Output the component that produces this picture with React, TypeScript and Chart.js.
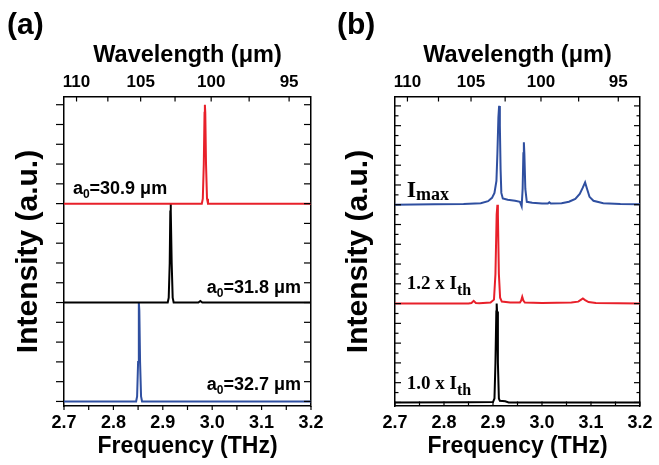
import React, { useEffect, useRef } from "react";
import { Chart, registerables } from "chart.js";

Chart.register(...registerables);

// ---------- constants / tick data ----------
const C_UM_THZ = 299.792458; // wavelength (um) * frequency (THz)

const freqTicks = [2.7, 2.8, 2.9, 3.0, 3.1, 3.2];
const freqTickLabels = ["2.7", "2.8", "2.9", "3.0", "3.1", "3.2"];
const freqAllTicks = [2.7, 2.75, 2.8, 2.85, 2.9, 2.95, 3.0, 3.05, 3.1, 3.15, 3.2];
const wlTicks = [110, 105, 100, 95];
const wlTickLabels = ["110", "105", "100", "95"];
const wlAllTicks = [110, 107.5, 105, 102.5, 100, 97.5, 95];
const intMajorTicks = [0, 1, 2, 3, 4, 5, 6, 7, 8, 9, 10, 11, 12, 13, 14, 15];
const intMinorTicks = [0.5, 1.5, 2.5, 3.5, 4.5, 5.5, 6.5, 7.5, 8.5, 9.5, 10.5, 11.5, 12.5, 13.5, 14.5];

// ---------- panel (a) spectra (normalized, before vertical offset) ----------
const aRedFreq = [2.7, 2.8, 2.9, 2.979, 2.981, 2.983, 2.9845, 2.9852, 2.986, 2.9875, 2.9895, 2.9915, 3.05, 3.2];
const aRedInt = [0, 0, 0, 0, 0.25, 2.0, 4.6, 5.0, 4.6, 2.0, 0.25, 0, 0, 0];
const aBlackFreq = [2.7, 2.8, 2.91, 2.912, 2.914, 2.9152, 2.9158, 2.9165, 2.918, 2.92, 2.922, 2.972, 2.976, 2.98, 3.2];
const aBlackInt = [0, 0, 0, 0.25, 2.0, 4.6, 5.0, 4.6, 2.0, 0.25, 0, 0, 0.08, 0, 0];
const aBlueFreq = [2.7, 2.8, 2.846, 2.848, 2.85, 2.8512, 2.8518, 2.8525, 2.854, 2.856, 2.858, 3.0, 3.2];
const aBlueInt = [0, 0, 0, 0.25, 2.0, 4.6, 5.0, 4.6, 2.0, 0.25, 0, 0, 0];
const aOffsets = [10, 5, 0]; // red, black, blue

// ---------- panel (b) spectra ----------
const bBlueFreq = [2.7, 2.78, 2.84, 2.875, 2.89, 2.898, 2.903, 2.907, 2.909, 2.911, 2.9125, 2.914, 2.9155, 2.917, 2.92, 2.93, 2.945, 2.955, 2.9585, 2.9605, 2.962, 2.963, 2.964, 2.966, 2.969, 2.98, 3.0, 3.012, 3.015, 3.018, 3.04, 3.055, 3.068, 3.077, 3.083, 3.088, 3.092, 3.097, 3.105, 3.125, 3.16, 3.2];
const bBlueInt = [0, 0.02, 0.04, 0.08, 0.18, 0.35, 0.6, 1.2, 2.6, 4.4, 5.0, 4.0, 1.8, 0.6, 0.32, 0.25, 0.2, 0.15, -0.08, 0.8, 2.6, 3.16, 2.6, 0.8, 0.15, 0.1, 0.06, 0.06, 0.12, 0.06, 0.08, 0.15, 0.3, 0.55, 0.85, 1.13, 0.8, 0.4, 0.2, 0.08, 0.04, 0.02];
const bRedFreq = [2.7, 2.85, 2.856, 2.8606, 2.865, 2.872, 2.895, 2.902, 2.905, 2.9075, 2.909, 2.91, 2.912, 2.9145, 2.918, 2.935, 2.955, 2.9575, 2.9597, 2.962, 2.965, 3.0, 3.06, 3.074, 3.08, 3.0835, 3.088, 3.095, 3.11, 3.2];
const bRedInt = [0, 0, 0.03, 0.14, 0.03, 0.02, 0.05, 0.2, 1.5, 4.5, 5.0, 4.5, 1.5, 0.3, 0.1, 0.06, 0.05, 0.15, 0.34, 0.15, 0.05, 0.03, 0.05, 0.1, 0.2, 0.26, 0.18, 0.08, 0.03, 0];
const bBlackFreq = [2.7, 2.85, 2.9, 2.903, 2.905, 2.9068, 2.9075, 2.9083, 2.91, 2.912, 2.914, 2.925, 2.932, 3.2];
const bBlackInt = [0, 0.01, 0.02, 0.2, 2.0, 4.6, 5.0, 4.6, 2.0, 0.2, 0.08, 0.06, 0, 0];
const bOffsets = [10, 5, 0]; // blue, red, black

// ---------- text ----------
const aLabelTexts = [
  ["a", "0", "=30.9 \u03bcm"],
  ["a", "0", "=31.8 \u03bcm"],
  ["a", "0", "=32.7 \u03bcm"],
];
const bLabelTexts = [
  ["I", "max"],
  ["1.2 x I", "th"],
  ["1.0 x I", "th"],
];

// ---------- styling / layout ----------
const SANS = "'Liberation Sans', Arial, sans-serif";
const SERIF = "'Liberation Serif', 'Times New Roman', serif";
const RED = "#E8202A";
const BLACK = "#000000";
const BLUE = "#2F4FA0";
const H = 465;

type Seg = { text: string; font: string; dy: number };

function drawRich(ctx: CanvasRenderingContext2D, x: number, y: number, segs: Seg[], align: string) {
  let total = 0;
  for (const s of segs) {
    ctx.font = s.font;
    total += ctx.measureText(s.text).width;
  }
  let cx = align === "right" ? x - total : x;
  ctx.textAlign = "left";
  ctx.textBaseline = "alphabetic";
  for (const s of segs) {
    ctx.font = s.font;
    ctx.fillText(s.text, cx, y + s.dy);
    cx += ctx.measureText(s.text).width;
  }
}

type TickSpec = { scale: string; side: string; values: number[]; len: number; inward: boolean };
type LabelSpec = { x: number; y: number; align: string; segs: Seg[] };

function makeDecor(ticks: TickSpec[], labels: LabelSpec[], letter: string) {
  return {
    id: "decor" + letter,
    afterDraw(chart: any) {
      const ctx: CanvasRenderingContext2D = chart.ctx;
      const ca = chart.chartArea;
      ctx.save();
      ctx.strokeStyle = "#000";
      ctx.lineWidth = 1.2;
      for (const t of ticks) {
        const sc = chart.scales[t.scale];
        for (const v of t.values) {
          const p = sc.getPixelForValue(v);
          ctx.beginPath();
          if (t.side === "bottom") {
            const d = t.inward ? -1 : 1;
            ctx.moveTo(p, ca.bottom);
            ctx.lineTo(p, ca.bottom + d * t.len);
          } else if (t.side === "top") {
            const d = t.inward ? 1 : -1;
            ctx.moveTo(p, ca.top);
            ctx.lineTo(p, ca.top + d * t.len);
          } else if (t.side === "left") {
            const d = t.inward ? 1 : -1;
            ctx.moveTo(ca.left, p);
            ctx.lineTo(ca.left + d * t.len, p);
          } else {
            const d = t.inward ? -1 : 1;
            ctx.moveTo(ca.right, p);
            ctx.lineTo(ca.right + d * t.len, p);
          }
          ctx.stroke();
        }
      }
      ctx.fillStyle = "#000";
      for (const l of labels) {
        const px = chart.scales.x.getPixelForValue(l.x);
        const py = chart.scales.y.getPixelForValue(l.y);
        drawRich(ctx, px, py, l.segs, l.align);
      }
      ctx.font = `bold 30px ${SANS}`;
      ctx.textAlign = "left";
      ctx.textBaseline = "alphabetic";
      ctx.fillText(letter, 7, 33.5);
      ctx.restore();
    },
  };
}

function buildConfig(opts: {
  width: number;
  left: number;
  right: number;
  bottom: number;
  yMin: number;
  yMax: number;
  datasets: any[];
  plugin: any;
}) {
  const font = (size: number) => ({ family: SANS, size, weight: "bold" as const });
  const border = { display: true, color: "#000", width: 1.5 };
  const grid = { display: true, drawOnChartArea: false, drawTicks: false };
  return {
    type: "line" as const,
    data: { datasets: opts.datasets },
    plugins: [opts.plugin],
    options: {
      responsive: false,
      animation: false as const,
      devicePixelRatio: 1,
      layout: { padding: 0 },
      plugins: { legend: { display: false }, tooltip: { enabled: false } },
      elements: { point: { radius: 0 }, line: { tension: 0 } },
      scales: {
        x: {
          type: "linear" as const,
          axis: "x" as const,
          position: "bottom" as const,
          min: 2.7,
          max: 3.2,
          afterBuildTicks: (s: any) => {
            s.ticks = freqTicks.map((v) => ({ value: v }));
          },
          afterFit: (s: any) => {
            s.height = H - opts.bottom;
          },
          ticks: {
            autoSkip: false,
            maxRotation: 0,
            minRotation: 0,
            padding: 6.5,
            color: "#000",
            font: font(18),
            callback: (_v: any, i: number) => freqTickLabels[i],
          },
          grid,
          border,
          title: { display: true, text: "Frequency (THz)", color: "#000", font: font(23), padding: { top: 0, bottom: 5 } },
        },
        xTop: {
          type: "linear" as const,
          axis: "x" as const,
          position: "top" as const,
          min: 2.7,
          max: 3.2,
          afterBuildTicks: (s: any) => {
            s.ticks = wlTicks.map((w) => ({ value: C_UM_THZ / w }));
          },
          afterFit: (s: any) => {
            s.height = 97;
          },
          ticks: {
            autoSkip: false,
            maxRotation: 0,
            minRotation: 0,
            padding: 4.7,
            color: "#000",
            font: font(17),
            callback: (_v: any, i: number) => wlTickLabels[i],
          },
          grid,
          border,
          title: { display: true, text: "Wavelength (\u03bcm)", color: "#000", font: font(23.5), padding: { top: 41.5, bottom: 0 } },
        },
        y: {
          type: "linear" as const,
          axis: "y" as const,
          position: "left" as const,
          min: opts.yMin,
          max: opts.yMax,
          afterFit: (s: any) => {
            s.width = opts.left;
          },
          ticks: { display: false },
          grid,
          border,
          title: { display: true, text: "Intensity (a.u.)", color: "#000", font: font(30), padding: { top: 11, bottom: 0 } },
        },
        yRight: {
          type: "linear" as const,
          axis: "y" as const,
          position: "right" as const,
          min: opts.yMin,
          max: opts.yMax,
          afterFit: (s: any) => {
            s.width = opts.width - opts.right;
          },
          ticks: { display: false },
          grid,
          border,
        },
      },
    },
  };
}

function series(freq: number[], val: number[], offset: number, color: string) {
  return {
    data: freq.map((f, i) => ({ x: f, y: val[i] + offset })),
    borderColor: color,
    borderWidth: 2,
    pointRadius: 0,
    fill: false,
    xAxisID: "x",
    yAxisID: "y",
  };
}

const sansSeg = (t: string, sub: boolean): Seg => ({
  text: t,
  font: sub ? `bold 12px ${SANS}` : `bold 18px ${SANS}`,
  dy: sub ? 4 : 0,
});

export default function App() {
  const refA = useRef<HTMLCanvasElement>(null);
  const refB = useRef<HTMLCanvasElement>(null);

  useEffect(() => {
    const wlFreq = wlAllTicks.map((w) => C_UM_THZ / w);

    // ----- panel (a) -----
    const aTicks: TickSpec[] = [
      { scale: "x", side: "bottom", values: freqAllTicks, len: 4, inward: false },
      { scale: "xTop", side: "top", values: wlFreq, len: 4.5, inward: true },
      { scale: "y", side: "left", values: intMajorTicks, len: 8, inward: false },
      { scale: "y", side: "right", values: intMajorTicks, len: 7, inward: true },
    ];
    const aPos = [
      { x: 2.718, y: 10.49, align: "left" },
      { x: 3.18, y: 5.49, align: "right" },
      { x: 3.18, y: 0.59, align: "right" },
    ];
    const aLabels: LabelSpec[] = aLabelTexts.map((t, i) => ({
      ...aPos[i],
      segs: [sansSeg(t[0], false), sansSeg(t[1], true), sansSeg(t[2], false)],
    }));
    const chartA = new Chart(
      refA.current as HTMLCanvasElement,
      buildConfig({
        width: 330,
        left: 64,
        right: 313,
        bottom: 406,
        yMin: -0.23,
        yMax: 15.39,
        datasets: [
          series(aRedFreq, aRedInt, aOffsets[0], RED),
          series(aBlackFreq, aBlackInt, aOffsets[1], BLACK),
          series(aBlueFreq, aBlueInt, aOffsets[2], BLUE),
        ],
        plugin: makeDecor(aTicks, aLabels, "(a)"),
      }) as any
    );

    // ----- panel (b) -----
    const bTicks: TickSpec[] = [
      { scale: "x", side: "bottom", values: freqAllTicks, len: 4.5, inward: true },
      { scale: "xTop", side: "top", values: wlFreq, len: 4.5, inward: true },
      { scale: "y", side: "left", values: intMajorTicks, len: 6, inward: true },
      { scale: "y", side: "left", values: intMinorTicks, len: 3.5, inward: true },
      { scale: "y", side: "right", values: intMajorTicks, len: 6, inward: true },
      { scale: "y", side: "right", values: intMinorTicks, len: 3.5, inward: true },
    ];
    const bPos = [
      { x: 2.724, y: 10.39, align: "left" },
      { x: 2.724, y: 5.74, align: "left" },
      { x: 2.724, y: 0.68, align: "left" },
    ];
    const bFonts = [
      [`bold 24px ${SERIF}`, `bold 18px ${SERIF}`, 3],
      [`bold 19px ${SERIF}`, `bold 16px ${SERIF}`, 6],
      [`bold 19px ${SERIF}`, `bold 16px ${SERIF}`, 6],
    ];
    const bLabels: LabelSpec[] = bLabelTexts.map((t, i) => ({
      ...bPos[i],
      segs: [
        { text: t[0], font: bFonts[i][0] as string, dy: 0 },
        { text: t[1], font: bFonts[i][1] as string, dy: bFonts[i][2] as number },
      ],
    }));
    const chartB = new Chart(
      refB.current as HTMLCanvasElement,
      buildConfig({
        width: 329,
        left: 65,
        right: 314,
        bottom: 406,
        yMin: -0.18,
        yMax: 15.45,
        datasets: [
          series(bBlueFreq, bBlueInt, bOffsets[0], BLUE),
          series(bRedFreq, bRedInt, bOffsets[1], RED),
          series(bBlackFreq, bBlackInt, bOffsets[2], BLACK),
        ],
        plugin: makeDecor(bTicks, bLabels, "(b)"),
      }) as any
    );

    return () => {
      chartA.destroy();
      chartB.destroy();
    };
  }, []);

  return (
    <div style={{ position: "fixed", left: 0, top: 0, width: 659, height: 465, background: "#fff" }}>
      <canvas ref={refA} width={330} height={465} style={{ position: "absolute", left: 0, top: 0, width: 330, height: 465 }} />
      <canvas ref={refB} width={329} height={465} style={{ position: "absolute", left: 330, top: 0, width: 329, height: 465 }} />
    </div>
  );
}
